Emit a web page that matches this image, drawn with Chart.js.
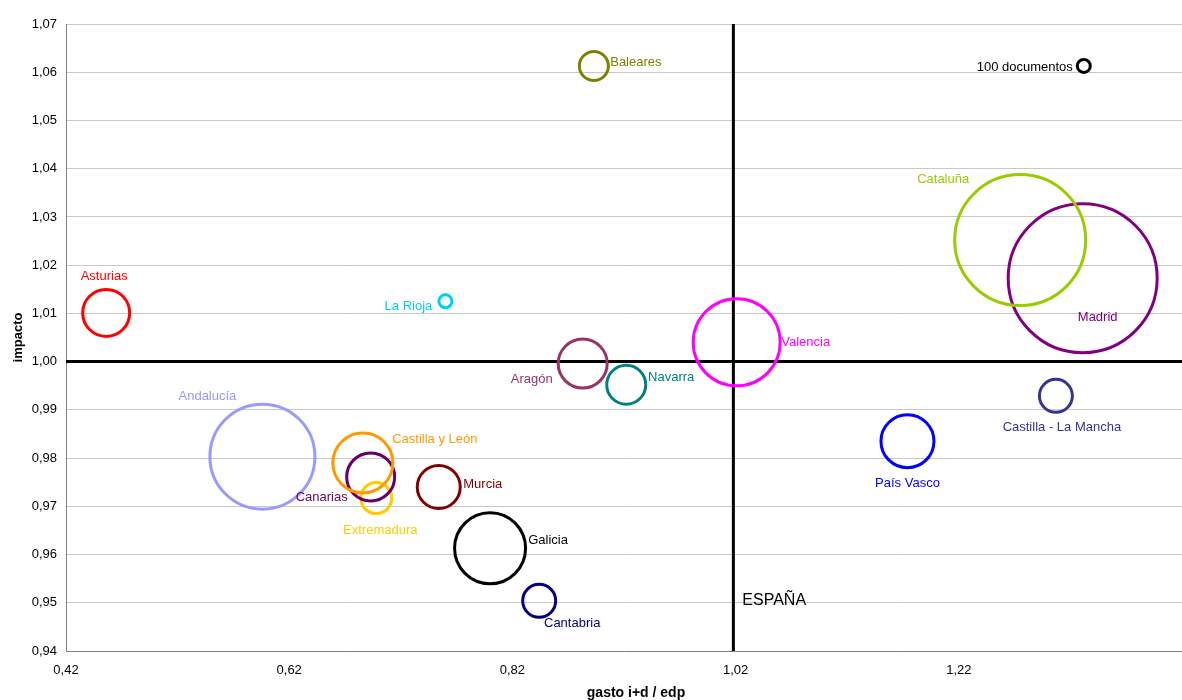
<!DOCTYPE html>
<html>
<head>
<meta charset="utf-8">
<script src="https://cdn.jsdelivr.net/npm/chart.js@4.4.0/dist/chart.umd.min.js"></script>
<style>
html,body{margin:0;padding:0;background:#fff;}
#wrap{width:1182px;height:700px;position:relative;}
</style>
</head>
<body>
<div id="wrap"><canvas id="c" width="1182" height="700"></canvas></div>
<script>
// ---- data ----
const regions = ["Asturias","La Rioja","Baleares","100 documentos","Cataluña","Madrid","Valencia","Aragón","Navarra","Andalucía","Castilla y León","Canarias","Extremadura","Murcia","Galicia","Cantabria","País Vasco","Castilla - La Mancha"];
const gastoID = [0.456,0.760,0.893,1.332,1.275,1.331,1.021,0.883,0.922,0.596,0.686,0.693,0.698,0.754,0.800,0.844,1.174,1.307];
const impacto = [1.0101,1.0125,1.0613,1.0613,1.0252,1.0173,1.0040,0.9996,0.9952,0.9803,0.9790,0.9761,0.9717,0.9740,0.9613,0.9504,0.9835,0.9929];
const documentos = [1307,100,498,100,10154,13136,4479,1421,900,6524,2130,1363,569,1094,2983,644,1662,644];
const espanaX = 1.018;
const espanaY = 1.00;
const xTicks = [0.42,0.62,0.82,1.02,1.22];
const yTicks = [0.94,0.95,0.96,0.97,0.98,0.99,1.00,1.01,1.02,1.03,1.04,1.05,1.06,1.07];
const xTitle = 'gasto i+d / edp';
const yTitle = 'impacto';

// ---- styles ----
const colors = ["#FF0000","#00CCFF","#808000","#000000","#99CC00","#800080","#FF00FF","#993366","#008080","#9999FF","#FF9900","#660066","#FFCC00","#800000","#000000","#000080","#0000FF","#333399"];
// label offset (text centre relative to bubble centre, px)
const labelOffsets = [[-2,-36],[-37,5],[42,-4],[-59,1],[-77,-61],[15,39],[69,0],[-51,16],[45,-7],[-55,-60],[72,-23],[-49,21],[4,32],[44,-3],[58,-8],[33,23],[0,42],[6,32]];
const FONT = 'Arial, "Liberation Sans", sans-serif';

const bubbleSets = regions.map((name,i)=>({
  type:'bubble',
  label:name,
  data:[{x:gastoID[i], y:impacto[i], r:6.5*Math.sqrt(documentos[i]/100)}],
  backgroundColor:'rgba(0,0,0,0)',
  borderColor:colors[i],
  borderWidth:3,
  order:0
}));

const lineSets = [
  {type:'line', label:'espV', data:[{x:espanaX,y:0.94},{x:espanaX,y:1.07}], borderColor:'#000', borderWidth:3, pointRadius:0, order:5},
  {type:'line', label:'espH', data:[{x:0.42,y:espanaY},{x:1.42,y:espanaY}], borderColor:'#000', borderWidth:3, pointRadius:0, order:5}
];

const labelPlugin = {
  id:'labels',
  afterDatasetsDraw(chart){
    const ctx = chart.ctx;
    const xs = chart.scales.x, ys = chart.scales.y;
    ctx.save();
    ctx.font = '13px ' + FONT;
    ctx.textAlign = 'center';
    ctx.textBaseline = 'middle';
    regions.forEach((name,i)=>{
      const px = xs.getPixelForValue(gastoID[i]);
      const py = ys.getPixelForValue(impacto[i]);
      ctx.fillStyle = colors[i];
      ctx.fillText(name, px + labelOffsets[i][0], py + labelOffsets[i][1]);
    });
    ctx.font = '16px ' + FONT;
    ctx.fillStyle = '#000';
    ctx.textAlign = 'left';
    ctx.fillText('ESPAÑA', xs.getPixelForValue(espanaX) + 9, ys.getPixelForValue(0.9505));
    ctx.restore();
  },
  afterDraw(chart){
    const ctx = chart.ctx;
    const ca = chart.chartArea;
    ctx.save();
    ctx.fillStyle = '#000';
    ctx.textAlign = 'center';
    ctx.textBaseline = 'middle';
    ctx.font = 'bold 14px ' + FONT;
    ctx.fillText(xTitle, ca.left + (ca.right - ca.left)/2 + 12, 693);
    ctx.translate(18, (ca.top + ca.bottom)/2);
    ctx.rotate(-Math.PI/2);
    ctx.font = 'bold 13px ' + FONT;
    ctx.fillText(yTitle, 0, 0);
    ctx.restore();
  }
};

const fmt = v => v.toFixed(2).replace('.',',');

new Chart(document.getElementById('c'), {
  data:{datasets:[...bubbleSets, ...lineSets]},
  options:{
    responsive:false,
    animation:false,
    events:[],
    layout:{autoPadding:false, padding:{top:24,right:0,left:0,bottom:0}},
    plugins:{legend:{display:false}, tooltip:{enabled:false}},
    scales:{
      x:{
        type:'linear', min:0.42, max:1.42,
        afterBuildTicks(s){ s.ticks = xTicks.map(v=>({value:v})); },
        afterFit(s){ s.height = 49; },
        ticks:{callback:fmt, color:'#000', font:{size:13, family:FONT}, padding:12, maxRotation:0, autoSkip:false},
        grid:{display:false, drawTicks:false},
        border:{display:true, color:'#808080', width:1}
      },
      y:{
        type:'linear', min:0.94, max:1.07,
        afterBuildTicks(s){ s.ticks = yTicks.map(v=>({value:v})); },
        afterFit(s){ s.width = 66; },
        ticks:{callback:fmt, color:'#000', font:{size:13, family:FONT}, padding:9, autoSkip:false},
        grid:{color:'#C8C8C8', lineWidth:1, drawTicks:false},
        border:{display:true, color:'#808080', width:1}
      }
    }
  },
  plugins:[labelPlugin]
});
</script>
</body>
</html>
